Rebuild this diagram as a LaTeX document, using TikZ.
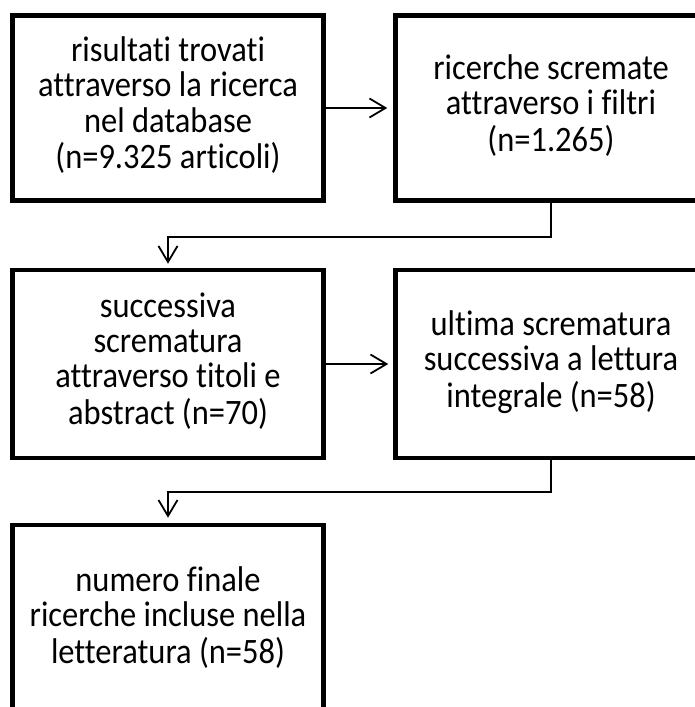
\documentclass[tikz,border=0pt]{standalone}
\usepackage{fontspec}
\setmainfont{Carlito}[Ligatures={NoCommon,NoRare,NoContextual}]
\usetikzlibrary{arrows.meta}
\newcommand{\tallbox}[1]{\scalebox{1}[1.1]{\begin{tabular}{@{}c@{}}#1\end{tabular}}}
\begin{document}
\begin{tikzpicture}[x=1pt,y=1pt,
  box/.style={draw=black, line width=4.5pt, minimum width=311pt, align=center,
    font=\fontsize{32.5}{32}\selectfont, inner sep=0pt},
  conn/.style={draw=black, line width=1.8pt, -{Straight Barb[length=16pt,width=19pt,line width=1.8pt]}}]
\useasboundingbox (0,0) rectangle (695,-707);
\clip (0,0) rectangle (695,-707);
\fill[white] (0,0) rectangle (695,-707);
\node[box, minimum height=185pt] (b1) at (168,-108) {\tallbox{risultati trovati\\attraverso la ricerca\\nel database\\(n=9.325 articoli)}};
\node[box, minimum height=185pt] (b2) at (551,-108) {\tallbox{ricerche scremate\\attraverso i filtri\\(n=1.265)}};
\node[box, minimum height=188pt] (b3) at (168,-364) {\tallbox{successiva\\scrematura\\attraverso titoli e\\abstract (n=70)}};
\node[box, minimum height=188pt] (b4) at (551,-364) {\tallbox{ultima scrematura\\successiva a lettura\\integrale (n=58)}};
\node[box, minimum height=190pt] (b5) at (168,-620) {\tallbox{numero finale\\ricerche incluse nella\\letteratura (n=58)}};
\draw[conn, shorten >=6pt] (b1.east) -- (b2.west);
\draw[conn, shorten >=5pt] (b3.east) -- (b4.west);
\draw[conn, shorten >=4pt] (b2.south) -- ++(0,-34) -| (b3.north);
\draw[conn, shorten >=5pt] (b4.south) -- ++(0,-32) -| (b5.north);
\end{tikzpicture}
\end{document}
